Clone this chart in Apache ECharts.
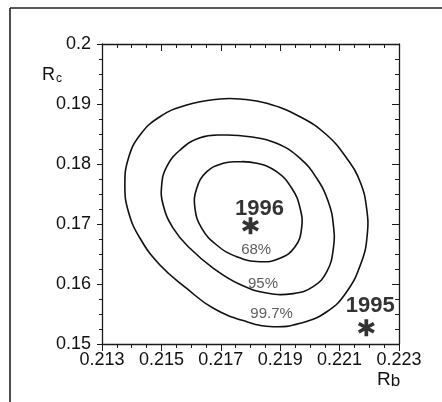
<!DOCTYPE html>
<html>
<head>
<meta charset="utf-8">
<script src="https://cdn.jsdelivr.net/npm/echarts@6/dist/echarts.min.js"></script>
<style>html,body{margin:0;padding:0;background:#fff}#c{width:442px;height:402px}</style>
</head>
<body>
<div id="c"></div>
<script>
// Tick labels / axis ranges
const xTicks = [0.213, 0.215, 0.217, 0.219, 0.221, 0.223];
const yTicks = [0.15, 0.16, 0.17, 0.18, 0.19, 0.2];

// Contours [Rb, Rc] (closed loops)
const contour997 = [
  [0.21697, 0.19083], [0.21585, 0.18983], [0.21495, 0.18788], [0.21428, 0.18483],
  [0.21389, 0.18095], [0.21377, 0.17650], [0.21389, 0.17205], [0.21428, 0.16762],
  [0.21495, 0.16317], [0.21585, 0.15928], [0.21675, 0.15595], [0.21787, 0.15372],
  [0.21877, 0.15288], [0.21967, 0.15345], [0.22057, 0.15538], [0.22124, 0.15872],
  [0.22174, 0.16372], [0.22193, 0.16817], [0.22191, 0.17262], [0.22169, 0.17705],
  [0.22124, 0.18095], [0.22057, 0.18483], [0.21967, 0.18788], [0.21855, 0.19012],
  [0.21765, 0.19083]
];
const contour95 = [
  [0.21708, 0.18483], [0.21630, 0.18438], [0.21563, 0.18233], [0.21518, 0.17955],
  [0.21501, 0.17650], [0.21506, 0.17317], [0.21540, 0.16928], [0.21596, 0.16595],
  [0.21675, 0.16262], [0.21765, 0.15990], [0.21855, 0.15850], [0.21944, 0.15840],
  [0.22011, 0.15955], [0.22057, 0.16205], [0.22079, 0.16595], [0.22079, 0.16983],
  [0.22062, 0.17372], [0.22023, 0.17762], [0.21967, 0.18095], [0.21888, 0.18345],
  [0.21798, 0.18455]
];
const contour68 = [
  [0.21708, 0.18012], [0.21653, 0.17872], [0.21619, 0.17595], [0.21613, 0.17262],
  [0.21636, 0.16928], [0.21686, 0.16650], [0.21754, 0.16455], [0.21832, 0.16372],
  [0.21899, 0.16428], [0.21950, 0.16622], [0.21972, 0.16928], [0.21967, 0.17262],
  [0.21939, 0.17595], [0.21888, 0.17872], [0.21821, 0.18012], [0.21754, 0.18038]
];

// Measurements
const yearNames = ['1996', '1995'];
const yearPoints = [[0.2180, 0.1697], [0.2219, 0.1527]];

// Contour level labels
const levelNames = ['68%', '95%', '99.7%'];
const levelPoints = [[0.21819, 0.16517], [0.21842, 0.15950], [0.21871, 0.15450]];

const asterisk = 'path://M-1.7,-8L1.7,-8L1.7,8L-1.7,8Z' +
  'M6.078,-5.472L7.778,-2.528L-6.078,5.472L-7.778,2.528Z' +
  'M7.778,2.528L6.078,5.472L-7.778,-2.528L-6.078,-5.472Z';

const chart = echarts.init(document.getElementById('c'));
const axisColor = '#1a1a1a';
const labelFont = 'Liberation Sans, Arial, sans-serif';

function xAxisCfg(pos, showLabel, inside, majorLen, minorLen) {
  return {
    type: 'value', position: pos, min: xTicks[0], max: xTicks[xTicks.length - 1],
    interval: xTicks[1] - xTicks[0],
    axisLine: { show: true, onZero: false, lineStyle: { color: axisColor, width: 1.3 } },
    axisTick: { show: true, inside: inside, length: majorLen, lineStyle: { color: axisColor, width: 1 } },
    minorTick: { show: true, splitNumber: 4, length: minorLen, lineStyle: { color: axisColor, width: 1 } },
    splitLine: { show: false },
    axisLabel: { show: showLabel, margin: 7, fontSize: 18, color: '#111', fontFamily: labelFont,
      formatter: v => v.toFixed(3) }
  };
}
function yAxisCfg(pos, showLabel, inside, majorLen, minorLen) {
  return {
    type: 'value', position: pos, min: yTicks[0], max: yTicks[yTicks.length - 1],
    interval: yTicks[1] - yTicks[0],
    axisLine: { show: true, onZero: false, lineStyle: { color: axisColor, width: 1.3 } },
    axisTick: { show: true, inside: inside, length: majorLen, lineStyle: { color: axisColor, width: 1 } },
    minorTick: { show: true, splitNumber: 4, length: minorLen, lineStyle: { color: axisColor, width: 1 } },
    splitLine: { show: false },
    axisLabel: { show: showLabel, margin: 11, fontSize: 18, color: '#111', fontFamily: labelFont,
      formatter: v => String(parseFloat(v.toFixed(3))) }
  };
}

// Closed smooth contour drawn through the axes' coordinate system
function contourSeries(d) {
  return {
    type: 'custom', data: d, silent: true, z: 3, clip: false,
    renderItem: function (params, api) {
      if (params.dataIndex !== 0) return null;
      const pts = d.map(p => api.coord(p));
      return {
        type: 'polygon',
        shape: { points: pts, smooth: 0.45 },
        style: { fill: 'none', stroke: '#111', lineWidth: 1.6 }
      };
    }
  };
}

chart.setOption({
  animation: false,
  backgroundColor: '#fff',
  grid: { left: 102, top: 44, right: 43, bottom: 58, containLabel: false },
  xAxis: [ xAxisCfg('bottom', true, false, 7, 4), xAxisCfg('top', false, true, 7, 4) ],
  yAxis: [ yAxisCfg('left', true, false, 5, 3), yAxisCfg('right', false, true, 7, 4) ],
  series: [
    contourSeries(contour997),
    contourSeries(contour95),
    contourSeries(contour68),
    {
      type: 'scatter', data: yearPoints.map((p, i) => ({ value: p, name: yearNames[i],
        label: i === 0 ? { offset: [9, 3] } : { offset: [4, -2] } })),
      symbol: asterisk, symbolSize: 17, itemStyle: { color: '#000' }, z: 5,
      label: { show: true, position: 'top', distance: 0, formatter: p => p.name, fontSize: 22,
        fontWeight: 'bold', color: '#000', fontFamily: labelFont }
    },
    {
      type: 'scatter', data: levelPoints.map((p, i) => ({ value: p, name: levelNames[i] })),
      symbolSize: 0, z: 4, silent: true,
      label: { show: true, position: 'inside', offset: [0, -3], formatter: p => p.name, fontSize: 15,
        color: '#333', fontFamily: labelFont }
    }
  ],
  graphic: [
    { type: 'line', shape: { x1: 10, y1: 8, x2: 10, y2: 402 }, style: { stroke: '#222', lineWidth: 1.6 } },
    { type: 'line', shape: { x1: 10, y1: 8, x2: 442, y2: 8 }, style: { stroke: '#222', lineWidth: 1.6 } },
    { type: 'text', left: 42, top: 66, style: { text: '{r|R}{s|c}', rich: {
        r: { fontSize: 18, fontFamily: labelFont, fill: '#111' },
        s: { fontSize: 12, fontFamily: labelFont, fill: '#111', padding: [8, 0, 0, 1] } } } },
    { type: 'text', left: 377, top: 370, style: { text: '{r|R}{s|b}', rich: {
        r: { fontSize: 19, fontFamily: labelFont, fill: '#111' },
        s: { fontSize: 17, fontFamily: labelFont, fill: '#111', padding: [4, 0, 0, 0] } } } }
  ]
});
</script>
</body>
</html>
